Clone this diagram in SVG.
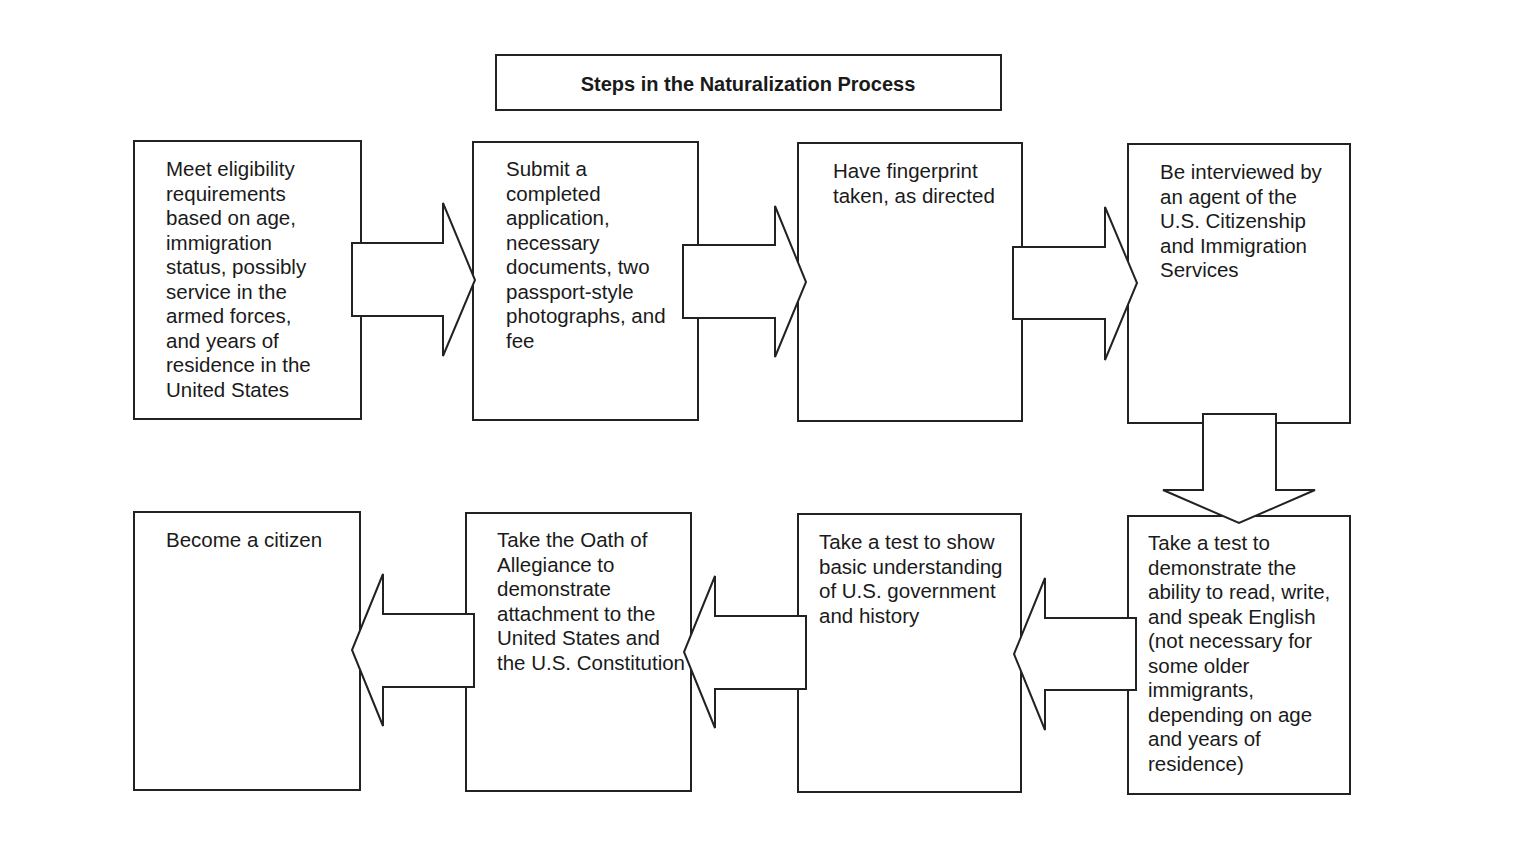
<svg xmlns="http://www.w3.org/2000/svg" width="1524" height="855" viewBox="0 0 1524 855">
<style>
.box{fill:#fff;stroke:#222;stroke-width:2}
.arr{fill:#fff;stroke:#222;stroke-width:2;stroke-linejoin:miter}
.t{font-family:"Liberation Sans",Arial,sans-serif;font-size:20.5px;fill:#1a1a1a}
.title{font-family:"Liberation Sans",Arial,sans-serif;font-size:20px;font-weight:bold;fill:#1a1a1a}
</style>
<rect width="1524" height="855" fill="#fff"/>
<g id="title"><rect class="box" x="496" y="55" width="505" height="55"/><text class="title" x="748" y="91" text-anchor="middle">Steps in the Naturalization Process</text></g>
<g id="n1"><rect class="box" x="134" y="141" width="227" height="278"/>
<text class="t" x="166" y="176"><tspan x="166">Meet eligibility</tspan><tspan x="166" dy="24.5">requirements</tspan><tspan x="166" dy="24.5">based on age,</tspan><tspan x="166" dy="24.5">immigration</tspan><tspan x="166" dy="24.5">status, possibly</tspan><tspan x="166" dy="24.5">service in the</tspan><tspan x="166" dy="24.5">armed forces,</tspan><tspan x="166" dy="24.5">and years of</tspan><tspan x="166" dy="24.5">residence in the</tspan><tspan x="166" dy="24.5">United States</tspan></text></g>
<g id="n2"><rect class="box" x="473" y="142" width="225" height="278"/>
<text class="t" x="506" y="176"><tspan x="506">Submit a</tspan><tspan x="506" dy="24.5">completed</tspan><tspan x="506" dy="24.5">application,</tspan><tspan x="506" dy="24.5">necessary</tspan><tspan x="506" dy="24.5">documents, two</tspan><tspan x="506" dy="24.5">passport-style</tspan><tspan x="506" dy="24.5">photographs, and</tspan><tspan x="506" dy="24.5">fee</tspan></text></g>
<g id="n3"><rect class="box" x="798" y="143" width="224" height="278"/>
<text class="t" x="833" y="178"><tspan x="833">Have fingerprint</tspan><tspan x="833" dy="24.5">taken, as directed</tspan></text></g>
<g id="n4"><rect class="box" x="1128" y="144" width="222" height="279"/>
<text class="t" x="1160" y="179"><tspan x="1160">Be interviewed by</tspan><tspan x="1160" dy="24.5">an agent of the</tspan><tspan x="1160" dy="24.5">U.S. Citizenship</tspan><tspan x="1160" dy="24.5">and Immigration</tspan><tspan x="1160" dy="24.5">Services</tspan></text></g>
<g id="n5"><rect class="box" x="134" y="512" width="226" height="278"/>
<text class="t" x="166" y="547"><tspan x="166">Become a citizen</tspan></text></g>
<g id="n6"><rect class="box" x="466" y="513" width="225" height="278"/>
<text class="t" x="497" y="547"><tspan x="497">Take the Oath of</tspan><tspan x="497" dy="24.5">Allegiance to</tspan><tspan x="497" dy="24.5">demonstrate</tspan><tspan x="497" dy="24.5">attachment to the</tspan><tspan x="497" dy="24.5">United States and</tspan><tspan x="497" dy="24.5">the U.S. Constitution</tspan></text></g>
<g id="n7"><rect class="box" x="798" y="514" width="223" height="278"/>
<text class="t" x="819" y="549"><tspan x="819">Take a test to show</tspan><tspan x="819" dy="24.5">basic understanding</tspan><tspan x="819" dy="24.5">of U.S. government</tspan><tspan x="819" dy="24.5">and history</tspan></text></g>
<g id="n8"><rect class="box" x="1128" y="516" width="222" height="278"/>
<text class="t" x="1148" y="550"><tspan x="1148">Take a test to</tspan><tspan x="1148" dy="24.5">demonstrate the</tspan><tspan x="1148" dy="24.5">ability to read, write,</tspan><tspan x="1148" dy="24.5">and speak English</tspan><tspan x="1148" dy="24.5">(not necessary for</tspan><tspan x="1148" dy="24.5">some older</tspan><tspan x="1148" dy="24.5">immigrants,</tspan><tspan x="1148" dy="24.5">depending on age</tspan><tspan x="1148" dy="24.5">and years of</tspan><tspan x="1148" dy="24.5">residence)</tspan></text></g>
<g id="connectors">
<polygon class="arr" points="352,243 443,243 443,203 475,280 443,356 443,316 352,316"/>
<polygon class="arr" points="683,245 775,245 775,206 806,282 775,357 775,318 683,318"/>
<polygon class="arr" points="1013,247 1105,247 1105,207 1137,283 1105,360 1105,319 1013,319"/>
<polygon class="arr" points="1203,414 1276,414 1276,490 1315,490 1239,523 1163,490 1203,490"/>
<polygon class="arr" points="1136,618 1136,690 1045,690 1045,730 1014,654 1045,578 1045,618"/>
<polygon class="arr" points="806,616 806,689 715,689 715,728 684,652 715,576 715,616"/>
<polygon class="arr" points="474,614 474,687 383,687 383,726 352,650 383,574 383,614"/>
</g>
</svg>
